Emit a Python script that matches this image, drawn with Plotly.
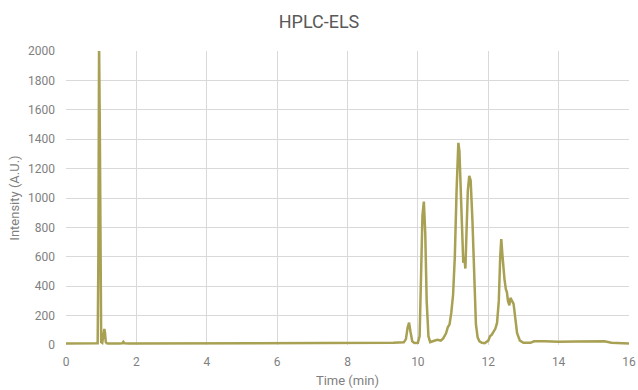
import plotly.graph_objects as go

time_min = [0.0, 0.5, 0.85, 0.9, 0.92, 0.94, 0.96, 0.98, 1.0, 1.03, 1.06, 1.09, 1.11, 1.13, 1.16, 1.2, 1.5, 1.6, 1.63, 1.66, 1.8,
            2.5, 3.5, 4.5, 5.5, 6.5, 7.0, 7.5, 8.0, 8.5, 9.0, 9.3, 9.6, 9.66, 9.71, 9.75, 9.79, 9.84, 9.9, 10.0,
            10.05, 10.09, 10.13, 10.17, 10.21, 10.25, 10.3, 10.35, 10.45, 10.55, 10.65, 10.72, 10.8, 10.85, 10.9,
            10.95, 11.0, 11.05, 11.1, 11.15, 11.18, 11.22, 11.26, 11.29, 11.32, 11.35, 11.38, 11.42, 11.46, 11.5,
            11.55, 11.6, 11.65, 11.7, 11.75, 11.82, 11.9, 12.0, 12.05, 12.1, 12.15, 12.2, 12.25, 12.3, 12.34,
            12.37, 12.4, 12.43, 12.46, 12.5, 12.53, 12.56, 12.6, 12.63, 12.67, 12.72, 12.77, 12.82, 12.9, 13.0,
            13.2, 13.3, 13.6, 14.0, 14.5, 15.0, 15.3, 15.5, 15.8, 16.0]
intensity = [10, 10, 10, 12, 600, 2050, 1500, 200, 20, 15, 60, 110, 80, 20, 12, 10, 10, 12, 22, 12, 10,
             10, 10, 10, 10, 12, 12, 12, 12, 14, 15, 15, 18, 40, 120, 152, 90, 25, 14, 15,
             60, 420, 880, 975, 760, 300, 60, 20, 25, 35, 30, 45, 80, 120, 140, 220, 340, 600, 1050, 1375, 1320,
             1000, 650, 560, 600, 520, 750, 1050, 1150, 1120, 850, 420, 140, 50, 25, 15, 12, 30, 60, 70, 90, 110,
             150, 300, 600, 721, 620, 520, 450, 380, 360, 300, 270, 320, 305, 280, 180, 80, 30, 15,
             15, 25, 25, 22, 24, 26, 25, 15, 12, 10]

x_ticks = [0, 2, 4, 6, 8, 10, 12, 14, 16]
y_ticks = [0, 200, 400, 600, 800, 1000, 1200, 1400, 1600, 1800, 2000]

fig = go.Figure()
fig.add_trace(go.Scatter(x=time_min, y=intensity, mode="lines",
                         line=dict(color="rgb(168,160,82)", width=2.5), showlegend=False))

axis_common = dict(showgrid=True, gridcolor="#d9d9d9", gridwidth=1, zeroline=False,
                   showline=False, ticks="", tickfont=dict(color="#7f7f7f", size=12),
                   title_font=dict(color="#7f7f7f", size=13), automargin=False)
fig.update_layout(
    width=638, height=390,
    margin=dict(l=66, r=9, t=51, b=45),
    paper_bgcolor="white", plot_bgcolor="white",
    font=dict(family="Roboto, sans-serif"),
    title=dict(text="HPLC-ELS", x=0.5, xanchor="center", y=0.945, yanchor="middle",
               font=dict(size=18, color="#595959")),
)
fig.update_xaxes(range=[0, 16], tickvals=x_ticks, title_text="Time (min)", title_standoff=7,
                 ticklabelstandoff=8, **axis_common)
fig.update_yaxes(range=[0, 2000], tickvals=y_ticks, title_text="Intensity (A.U.)", title_standoff=5,
                 ticklabelstandoff=10, **axis_common)

fig.write_html("out.html")
